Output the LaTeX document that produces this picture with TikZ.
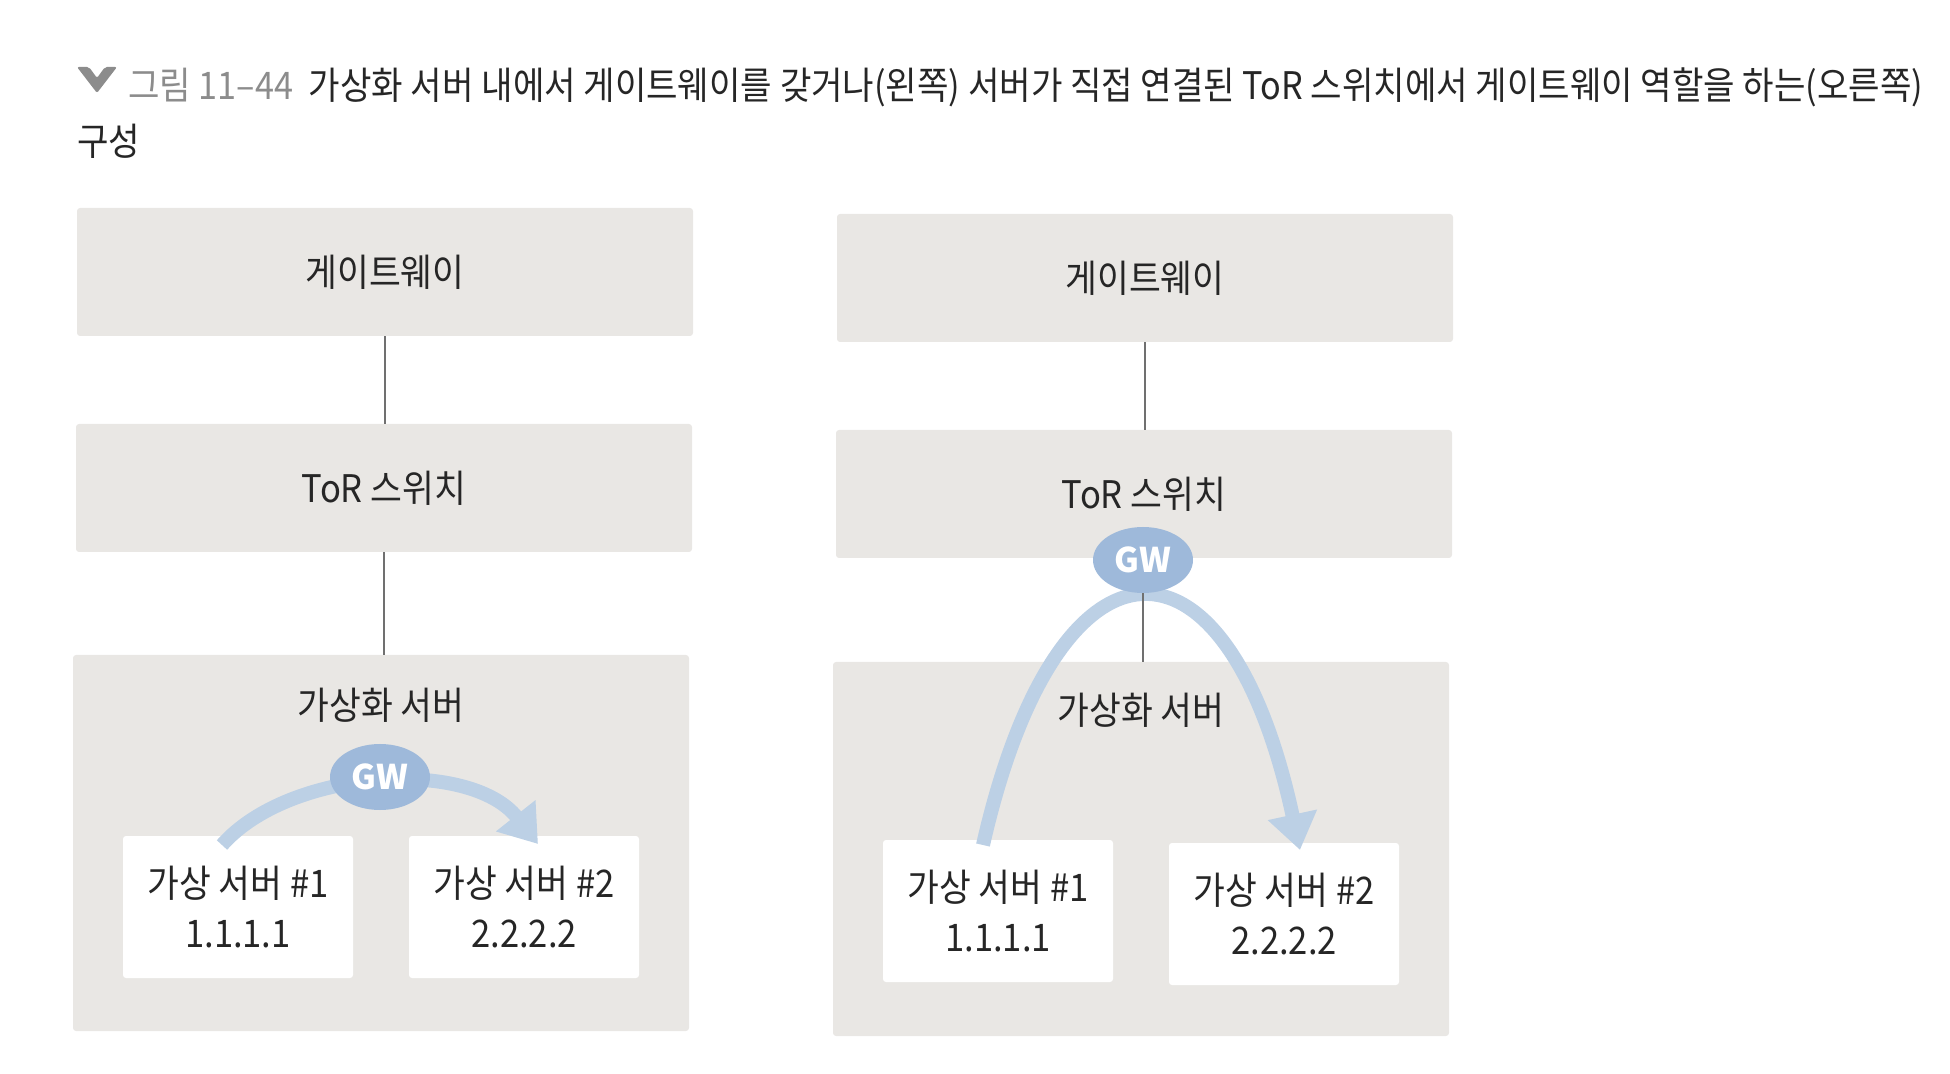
\documentclass[tikz,border=0pt]{standalone}
\usepackage{fontspec}
\setmainfont{Noto Sans CJK KR}[FakeStretch=0.91]
\newfontfamily\gwfont{Noto Sans CJK KR}
\newfontfamily\titlefont{Noto Sans CJK KR}[FakeStretch=0.9]
\usetikzlibrary{arrows.meta,shapes.geometric,calc}
\definecolor{boxgrey}{HTML}{E9E7E4}
\definecolor{gwblue}{HTML}{9EB9DA}
\definecolor{arrowblue}{HTML}{BCD0E5}
\definecolor{linegrey}{HTML}{707070}
\definecolor{txt}{HTML}{262626}
\definecolor{titlegrey}{HTML}{8C8C8C}
\begin{document}
\begin{tikzpicture}[x=0.5pt,y=-0.5pt,
  greybox/.style={fill=boxgrey, draw=none, rounded corners=1.5pt, inner sep=0pt, minimum width=308pt, text=txt, font=\fontsize{19pt}{24pt}\selectfont},
  whitebox/.style={fill=white, draw=none, rounded corners=1.5pt, minimum width=115pt, minimum height=71pt, align=center, inner sep=0pt, text=txt, font=\fontsize{19pt}{25pt}\selectfont},
  lbl/.style={text=txt, font=\fontsize{19pt}{24pt}\selectfont, inner sep=0pt},
  titletext/.style={anchor=base west, inner sep=0pt, text=txt, font=\titlefont\fontsize{19pt}{24pt}\selectfont},
  gwell/.style={ellipse, fill=gwblue, minimum width=50pt, minimum height=33pt, inner sep=0pt, text=white, font=\gwfont\bfseries\fontsize{17pt}{18pt}\selectfont},
  conn/.style={draw=linegrey, line width=0.9pt},
  flow/.style={draw=arrowblue, line width=7pt, -{Triangle[width=24pt,length=18pt]}}
]
\useasboundingbox (0,0) rectangle (1950,1074);
% title
\fill[titlegrey, rounded corners=1pt] (77,67) -- (89,67) -- (97,78) -- (105,67) -- (117,67) -- (97,93) -- cycle;
\node[titletext] (title) at (128,100) {\textcolor{titlegrey}{그림 11–44}\hspace{4pt} 가상화 서버 내에서 게이트웨이를 갖거나(왼쪽) 서버가 직접 연결된 ToR 스위치에서 게이트웨이 역할을 하는(오른쪽)};
\node[titletext] (title2) at (77,156) {구성};

% left column
\node[greybox, minimum height=64pt] (gwL) at (385,272) {게이트웨이};
\node[greybox, minimum height=64pt] (torL) at (384,488) {ToR 스위치};
\node[greybox, minimum height=188pt] (srvL) at (381,843) {};
\node[lbl] (srvLt) at ($(srvL.north)+(0,51)$) {가상화 서버};
\node[whitebox] (vmL1) at (238,907) {가상 서버 \#1\\1.1.1.1};
\node[whitebox] (vmL2) at (524,907) {가상 서버 \#2\\2.2.2.2};
\draw[conn] (gwL.south) -- (gwL.south |- torL.north);
\draw[conn] (torL.south) -- (torL.south |- srvL.north);
\coordinate (aL1) at (222,845);
\coordinate (aL2) at (538,844);
\draw[flow] (aL1) .. controls (290,768) and (470,758) .. (aL2);
\node[gwell] (gwellL) at (380,777) {GW};

% right column
\node[greybox, minimum height=64pt] (gwR) at (1145,278) {게이트웨이};
\node[greybox, minimum height=64pt] (torR) at (1144,494) {ToR 스위치};
\node[greybox, minimum height=187pt] (srvR) at (1141,849) {};
\node[lbl] (srvRt) at ($(srvR.north)+(0,49)$) {가상화 서버};
\node[whitebox] (vmR1) at (998,911) {가상 서버 \#1\\1.1.1.1};
\node[whitebox] (vmR2) at (1284,914) {가상 서버 \#2\\2.2.2.2};
\draw[conn] (gwR.south) -- (gwR.south |- torR.north);
\coordinate (aR1) at (983,845);
\coordinate (aR2) at (1300,850);
\draw[flow] (aR1) .. controls (1058,515) and (1228,515) .. (aR2);
\node[gwell] (gwellR) at (1143,560) {GW};
\draw[conn] (gwellR.south) -- (gwellR.south |- srvR.north);
\end{tikzpicture}
\end{document}
